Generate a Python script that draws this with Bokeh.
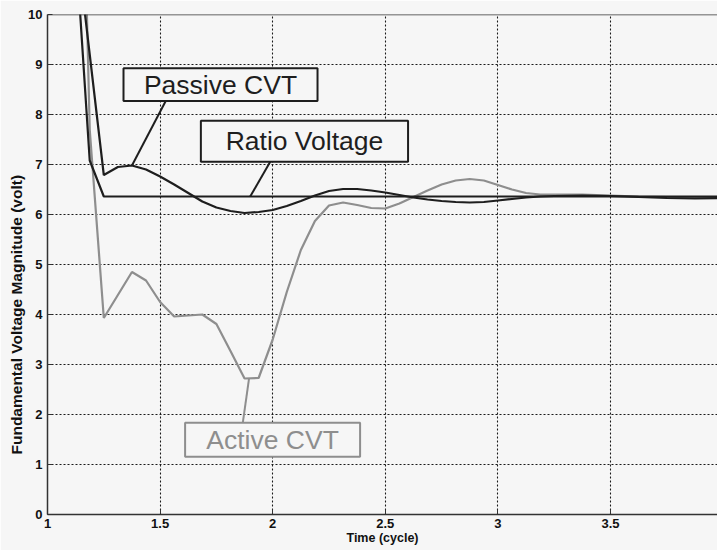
from bokeh.plotting import figure
from bokeh.models import Range1d, FixedTicker, Span, Title
from bokeh.core.properties import value
from bokeh.embed import file_html
from bokeh.resources import INLINE

# Time axis in cycles, samples every 1/16 cycle
t_ratio = [1.125, 1.1875, 1.25, 4.0]
v_ratio = [11.4, 7.08, 6.36, 6.36]

t_passive = [1.125, 1.1875, 1.25, 1.3125, 1.375, 1.4375, 1.5, 1.5625, 1.625,
             1.6875, 1.75, 1.8125, 1.875, 1.9375, 2.0, 2.0625, 2.125, 2.1875,
             2.25, 2.3125, 2.375, 2.4375, 2.5, 2.5625, 2.625, 2.6875, 2.75,
             2.8125, 2.875, 2.9375, 3.0, 3.0625, 3.125, 3.1875, 3.25, 3.375,
             3.5, 3.625, 3.75, 3.875, 4.0]
v_passive = [11.6, 9.2, 6.79, 6.95, 6.98, 6.90, 6.76, 6.60, 6.43,
             6.26, 6.14, 6.07, 6.03, 6.05, 6.09, 6.17, 6.27, 6.38,
             6.47, 6.51, 6.51, 6.48, 6.44, 6.39, 6.34, 6.30, 6.27,
             6.25, 6.24, 6.25, 6.28, 6.31, 6.34, 6.36, 6.37, 6.38,
             6.37, 6.35, 6.33, 6.32, 6.33]

t_active = [1.125, 1.1875, 1.25, 1.3125, 1.375, 1.4375, 1.5, 1.5625, 1.625,
            1.6875, 1.75, 1.8125, 1.875, 1.9375, 2.0, 2.0625, 2.125, 2.1875,
            2.25, 2.3125, 2.375, 2.4375, 2.5, 2.5625, 2.625, 2.6875, 2.75,
            2.8125, 2.875, 2.9375, 3.0, 3.0625, 3.125, 3.1875, 3.25, 3.375,
            3.5, 3.625, 3.75, 4.0]
v_active = [19.2, 7.7, 3.93, 4.39, 4.85, 4.68, 4.25, 3.96, 3.98,
            4.0, 3.81, 3.27, 2.72, 2.73, 3.5, 4.45, 5.29, 5.87,
            6.18, 6.24, 6.19, 6.13, 6.12, 6.22, 6.35, 6.48, 6.6,
            6.68, 6.71, 6.68, 6.59, 6.5, 6.43, 6.40, 6.40, 6.40,
            6.38, 6.36, 6.35, 6.35]

x_ticks = [1, 1.5, 2, 2.5, 3, 3.5, 4]
y_ticks = [0, 1, 2, 3, 4, 5, 6, 7, 8, 9, 10]

BG = "#f6f6f6"
DARK = "#1e1e1e"
GREY = "#8e8e8e"
FONT = "Liberation Sans"

p = figure(width=717, height=550, output_backend="svg", toolbar_location=None,
           x_range=Range1d(1, 3.975), y_range=Range1d(0, 10),
           min_border_left=47, min_border_right=0, min_border_top=14,
           min_border_bottom=36)
p.background_fill_color = BG
p.border_fill_color = BG
p.outline_line_color = None

for ax in (p.xaxis[0], p.yaxis[0]):
    ax.axis_line_color = "#333333"
    ax.axis_line_width = 1.5
    ax.major_tick_in = 5
    ax.major_tick_out = 0
    ax.major_tick_line_color = "#333333"
    ax.minor_tick_line_color = None
    ax.major_label_text_font = FONT
    ax.major_label_text_font_style = "bold"
    ax.major_label_text_font_size = "13px"
    ax.major_label_text_color = "#111111"
    ax.axis_label_text_font = FONT
    ax.axis_label_text_font_style = "bold"
    ax.axis_label_text_color = "#111111"

p.xaxis.axis_label_text_font_size = "12.5px"
p.xaxis.ticker = FixedTicker(ticks=x_ticks)
p.yaxis.ticker = FixedTicker(ticks=y_ticks)
p.xaxis.axis_label = "Time (cycle)"
p.xaxis.major_label_standoff = 4
p.yaxis.major_label_standoff = 5
p.xaxis.axis_label_standoff = 0

# y-axis title, starting a little above the bottom of the axis
p.add_layout(Title(text="Fundamental Voltage Magnitude (volt)", align="left",
                   offset=60, standoff=2, text_font=FONT,
                   text_font_style="bold", text_font_size="15.5px",
                   text_color="#111111"), "left")

for g in (p.xgrid[0], p.ygrid[0]):
    g.grid_line_color = "#1a1a1a"
    g.grid_line_dash = "2 2"
    g.grid_line_width = 1.1

p.add_layout(Span(location=10, dimension="width", line_color="#333333",
                  line_width=1.5))

# Curves
p.line(t_active, v_active, line_color=GREY, line_width=2.2)
p.line(t_passive, v_passive, line_color=DARK, line_width=2.2)
p.line(t_ratio, v_ratio, line_color=DARK, line_width=2.2)


def callout(label, x0, x1, y0, y1, anchor, tip, color):
    # leader line from the box edge to a point on the curve, then the boxed label
    p.line([anchor[0], tip[0]], [anchor[1], tip[1]], line_color=color,
           line_width=2)
    p.quad(left=[x0], right=[x1], bottom=[y0], top=[y1], fill_color=BG,
           line_color=color, line_width=2)
    p.text(x=[(x0 + x1) / 2], y=[(y0 + y1) / 2], text=[label],
           text_font=value(FONT), text_font_size="26.5px", text_color=color,
           text_align="center", text_baseline="middle")


callout("Passive CVT", 1.3375, 2.199, 8.27, 8.924, (1.525, 8.27),
        (t_passive[4], v_passive[4]), DARK)
callout("Ratio Voltage", 1.681, 2.601, 7.056, 7.876, (1.989, 7.056),
        (1.9, v_ratio[2]), DARK)
callout("Active CVT", 1.611, 2.388, 1.156, 1.836, (1.846, 1.156),
        (1.895, v_active[12] + (v_active[13] - v_active[12]) * 0.32), GREY)

open("out.html", "w").write(file_html(p, INLINE))
